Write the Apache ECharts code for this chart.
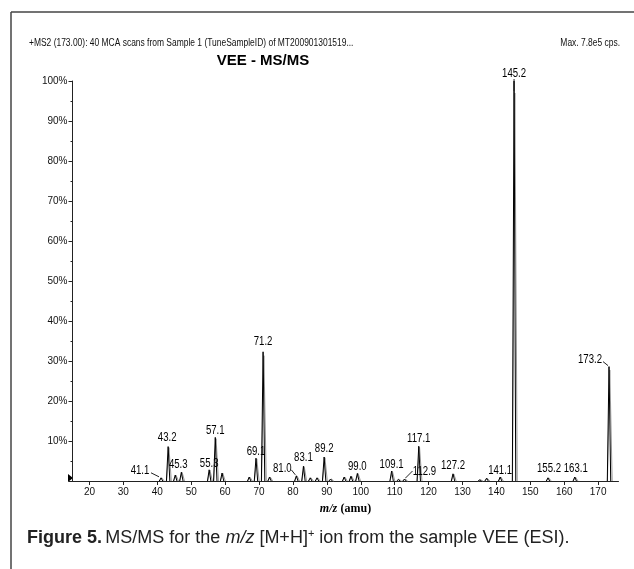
<!DOCTYPE html>
<html>
<head>
<meta charset="utf-8">
<script src="https://cdn.jsdelivr.net/npm/echarts@6/dist/echarts.min.js"></script>
<style>
html,body{margin:0;padding:0;background:#fff;}
#chart{width:634px;height:569px;}
</style>
</head>
<body>
<div id="chart"></div>
<script>
// ---- data ----
const peakMz =        [41.1, 43.2, 45.3, 47.1, 55.3, 57.1, 59.1, 67.1, 69.1, 71.2, 73.1, 81.0, 83.1, 85.1, 87.1, 89.2, 91.1, 95.1, 97.1, 99.0, 109.1, 111.1, 112.9, 117.1, 127.2, 135.1, 137.1, 141.1, 145.2, 155.2, 163.1, 173.2];
const peakIntensity = [0.8,  8.6,  1.5,  2.2,  2.8,  10.9, 2.0,  1.0,  5.7,  32.3, 1.0,  1.3,  3.7,  0.8,  0.8,  6.0,  0.5,  1.0,  1.2,  1.9,  2.5,   0.4,   0.5,   8.7,   1.8,   0.3,   0.7,   1.0,   100,   0.8,   1.0,   28.6];
const labeledMz = [41.1, 43.2, 45.3, 55.3, 57.1, 69.1, 71.2, 81.0, 83.1, 89.2, 99.0, 109.1, 112.9, 117.1, 127.2, 141.1, 145.2, 155.2, 163.1, 173.2];
const xTickLabels = [20, 30, 40, 50, 60, 70, 80, 90, 100, 110, 120, 130, 140, 150, 160, 170];
const yTickLabels = [10, 20, 30, 40, 50, 60, 70, 80, 90, 100];
const headerText = '+MS2 (173.00): 40 MCA scans from Sample 1 (TuneSampleID) of MT200901301519...';
const maxText = 'Max. 7.8e5 cps.';
const chartTitle = 'VEE - MS/MS';

// ---- layout / style ----
const SANS = "'Liberation Sans', Arial, sans-serif";
const labelLayout = {
  '41.1': {dx: -21, dy: -1, leader: [[-10, -5], [-2, -1]]},
  '43.2': {dx: -1, dy: -3},
  '45.3': {dx: 3, dy: -4},
  '55.3': {dx: 0, dy: 0},
  '57.1': {dx: 0, dy: -1},
  '69.1': {dx: 0, dy: -1},
  '71.2': {dx: 0, dy: -4},
  '81.0': {dx: -14, dy: -1, leader: [[-5, -6], [-1, -1]]},
  '83.1': {dx: 0, dy: -3},
  '89.2': {dx: 0, dy: -2},
  '99.0': {dx: 0, dy: -1},
  '109.1': {dx: 0, dy: 0},
  '112.9': {dx: 20, dy: -1, leader: [[1, -1], [8, -8]]},
  '117.1': {dx: 0, dy: -2},
  '127.2': {dx: 0, dy: -2},
  '141.1': {dx: 0, dy: 0},
  '145.2': {dx: 0, dy: -1},
  '155.2': {dx: 1, dy: -3},
  '163.1': {dx: 1, dy: -2},
  '173.2': {dx: -19, dy: -1, leader: [[-6, -5], [-1, -1]]}
};

const peakData = peakMz.map((m, i) => [m, peakIntensity[i]]);
const labelData = labeledMz.map(m => [m, peakIntensity[peakMz.indexOf(m)]]);

const chart = echarts.init(document.getElementById('chart'), null, {renderer: 'canvas'});

const option = {
  animation: false,
  backgroundColor: '#fff',
  grid: {left: 72.5, top: 81, width: 546, height: 400, containLabel: false},
  xAxis: {
    type: 'value', min: 15, max: 176,
    axisLine: {show: true, lineStyle: {color: '#222', width: 1}},
    axisTick: {show: true, length: 4, inside: false, customValues: xTickLabels, lineStyle: {color: '#222'}},
    axisLabel: {customValues: xTickLabels, color: '#111', fontSize: 10, fontFamily: SANS, margin: 6},
    splitLine: {show: false},
    name: '{i|m/z} {b|(amu)}',
    nameLocation: 'middle', nameGap: 22,
    nameTextStyle: {
      rich: {
        i: {fontFamily: "'Liberation Serif', 'DejaVu Serif', serif", fontStyle: 'italic', fontWeight: 'bold', fontSize: 12, color: '#000'},
        b: {fontFamily: "'Liberation Serif', 'DejaVu Serif', serif", fontWeight: 'bold', fontSize: 12, color: '#000'}
      }
    }
  },
  yAxis: {
    type: 'value', min: 0, max: 100, interval: 10,
    axisLine: {show: true, lineStyle: {color: '#222', width: 1}},
    axisTick: {show: true, length: 4, lineStyle: {color: '#222'}},
    minorTick: {show: true, splitNumber: 2, length: 2, lineStyle: {color: '#222'}},
    axisLabel: {color: '#111', fontSize: 10, fontFamily: SANS, margin: 5,
      formatter: v => (v === 0 ? '' : v + '%')},
    splitLine: {show: false}
  },
  series: [
    {
      type: 'custom',
      data: peakData,
      clip: false,
      renderItem: function (params, api) {
        const x = api.value(0), h = api.value(1);
        const top = api.coord([x, h]);
        const base = api.coord([x, 0]);
        const hw = 1.7;
        const span = base[1] - top[1];
        return {
          type: 'group',
          children: [
            {type: 'polyline', shape: {points: [[top[0] + 0.8 - hw * 1.4, base[1]], [top[0] + 0.8, top[1] + span * 0.03], [top[0] + 0.8 + hw * 1.4, base[1]]]},
              style: {stroke: '#9a9a9a', fill: null, lineWidth: 1}},
            {type: 'polyline', shape: {points: [[top[0] - hw, base[1]], [top[0], top[1]], [top[0] + hw, base[1]]]},
              style: {stroke: '#000', fill: null, lineWidth: 1}}
          ]
        };
      }
    },
    {
      type: 'custom',
      data: labelData,
      clip: false,
      renderItem: function (params, api) {
        const x = api.value(0), h = api.value(1);
        const top = api.coord([x, h]);
        const txt = x.toFixed(1);
        const lay = labelLayout[txt] || {dx: 0, dy: -2};
        const children = [{
          type: 'text',
          x: top[0] + lay.dx, y: top[1] + lay.dy, scaleX: 0.8,
          style: {text: txt, x: 0, y: 0, align: 'center', verticalAlign: 'bottom',
            fontSize: 12, fontFamily: SANS, fill: '#000'}
        }];
        if (lay.leader) {
          children.push({type: 'line', shape: {x1: top[0] + lay.leader[0][0], y1: top[1] + lay.leader[0][1], x2: top[0] + lay.leader[1][0], y2: top[1] + lay.leader[1][1]},
            style: {stroke: '#222', lineWidth: 1}});
        }
        if (txt === '145.2') {
          children.push({type: 'line', shape: {x1: top[0], y1: top[1] - 2, x2: top[0], y2: top[1] + 10}, style: {stroke: '#222', lineWidth: 1}});
        }
        return {type: 'group', children: children};
      }
    }
  ],
  graphic: [
    {type: 'line', shape: {x1: 11, y1: 12, x2: 634, y2: 12}, style: {stroke: '#444', lineWidth: 1.5}},
    {type: 'line', shape: {x1: 11, y1: 12, x2: 11, y2: 569}, style: {stroke: '#444', lineWidth: 1.5}},
    {type: 'text', x: 29, y: 43, scaleX: 0.845, style: {text: headerText, x: 0, y: 0, verticalAlign: 'middle', fontSize: 10, fontFamily: SANS, fill: '#111'}},
    {type: 'text', x: 620, y: 43, scaleX: 0.845, style: {text: maxText, x: 0, y: 0, align: 'right', verticalAlign: 'middle', fontSize: 10, fontFamily: SANS, fill: '#111'}},
    {type: 'text', x: 263, y: 61, style: {text: chartTitle, fontSize: 15, fontWeight: 'bold', fontFamily: SANS, fill: '#000', align: 'center', verticalAlign: 'middle'}},
    {type: 'polygon', shape: {points: [[68, 474], [73, 478], [68, 482]]}, style: {fill: '#000'}},
    {type: 'text', x: 27, y: 538, style: {
      text: '{b|Figure 5.} {n|MS/MS for the }{it|m/z}{n| [M+H]}{sup|+}{n| ion from the sample VEE (ESI).}',
      verticalAlign: 'middle',
      rich: {
        b: {fontFamily: SANS, fontWeight: 'bold', fontSize: 18, fill: '#222'},
        n: {fontFamily: SANS, fontSize: 18, fill: '#222'},
        it: {fontFamily: SANS, fontStyle: 'italic', fontSize: 18, fill: '#222'},
        sup: {fontFamily: SANS, fontSize: 11, fill: '#222', verticalAlign: 'top', padding: [0, 0, 8, 0]}
      }
    }}
  ]
};
chart.setOption(option);
</script>
</body>
</html>
